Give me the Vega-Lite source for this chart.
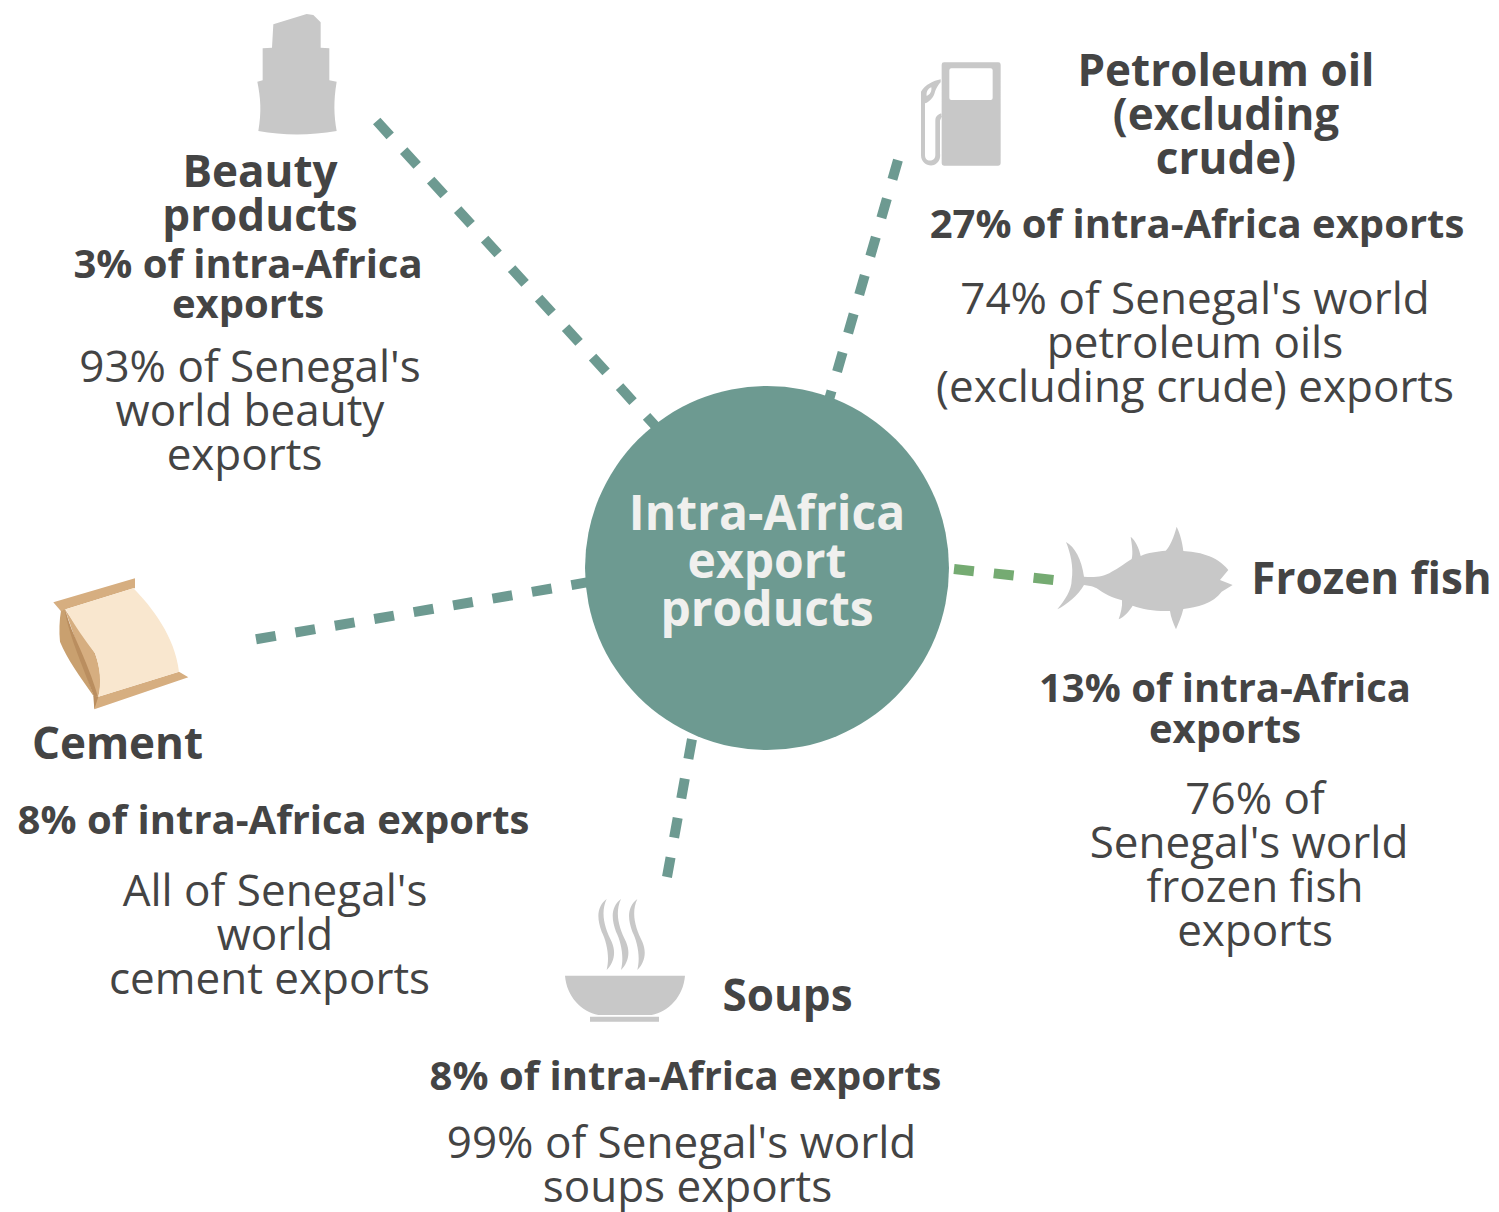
{"$schema":"https://vega.github.io/schema/vega-lite/v6.json","width":1499,"height":1212,"padding":0,"autosize":{"type":"none"},"background":"white","view":{"stroke":null},
"datasets":{
"links":[{"product":"Beauty products","px":376.7,"py":121},{"product":"Beauty products","px":660,"py":431},{"product":"Petroleum oil","px":898.3,"py":159},{"product":"Petroleum oil","px":826,"py":410},{"product":"Frozen fish","px":954,"py":569},{"product":"Frozen fish","px":1054,"py":580},{"product":"Cement","px":256,"py":639.3},{"product":"Cement","px":595,"py":581},{"product":"Soups","px":692,"py":739},{"product":"Soups","px":667,"py":877}],
"hub":[{"name":"Intra-Africa export products","px":767,"py":568}],
"icons":[{"name":"beauty","px":240,"py":5},{"name":"pump","px":910,"py":50},{"name":"fish","px":1050,"py":520},{"name":"cement","px":45,"py":570},{"name":"soup","px":555,"py":890}],
"labels":[
{"kind":"head","t":"Beauty","px":260,"py":186.5},{"kind":"head","t":"products","px":260,"py":230.5},
{"kind":"share","t":"3% of intra-Africa","px":248,"py":278},{"kind":"share","t":"exports","px":248,"py":318},
{"kind":"body","t":"93% of Senegal's","px":250,"py":382},{"kind":"body","t":"world beauty","px":250,"py":426},{"kind":"body","t":"exports","px":244.5,"py":470},
{"kind":"head","t":"Petroleum oil","px":1226,"py":86},{"kind":"head","t":"(excluding","px":1226,"py":130},{"kind":"head","t":"crude)","px":1226,"py":174},
{"kind":"share","t":"27% of intra-Africa exports","px":1197,"py":238},
{"kind":"body","t":"74% of Senegal's world","px":1195,"py":314},{"kind":"body","t":"petroleum oils","px":1195,"py":358},{"kind":"body","t":"(excluding crude) exports","px":1195,"py":402},
{"kind":"hub","t":"Intra-Africa","px":767,"py":530},{"kind":"hub","t":"export","px":767,"py":578},{"kind":"hub","t":"products","px":767,"py":626},
{"kind":"head","t":"Frozen fish","px":1371.5,"py":594},
{"kind":"share","t":"13% of intra-Africa","px":1225,"py":702},{"kind":"share","t":"exports","px":1225,"py":743},
{"kind":"body","t":"76% of","px":1255,"py":814},{"kind":"body","t":"Senegal's world","px":1249,"py":858},{"kind":"body","t":"frozen fish","px":1255,"py":902},{"kind":"body","t":"exports","px":1255,"py":946},
{"kind":"head","t":"Cement","px":117.5,"py":758.5},
{"kind":"share","t":"8% of intra-Africa exports","px":273.5,"py":834},
{"kind":"body","t":"All of Senegal's","px":275,"py":906},{"kind":"body","t":"world","px":275,"py":950},{"kind":"body","t":"cement exports","px":269.5,"py":994},
{"kind":"head","t":"Soups","px":787.5,"py":1010.5},
{"kind":"share","t":"8% of intra-Africa exports","px":685.5,"py":1090},
{"kind":"body","t":"99% of Senegal's world","px":681.5,"py":1158},{"kind":"body","t":"soups exports","px":687.5,"py":1202}
]},
"encoding":{
"x":{"field":"px","type":"quantitative","scale":{"domain":[0,1499],"nice":false,"zero":false},"axis":null},
"y":{"field":"py","type":"quantitative","scale":{"domain":[0,1212],"nice":false,"zero":false,"reverse":true},"axis":null}},
"layer":[
{"data":{"name":"links"},"mark":{"type":"line","strokeWidth":10,"strokeDash":[20,20]},"encoding":{"detail":{"field":"product"},"color":{"field":"product","type":"nominal","legend":null,"scale":{"domain":["Beauty products","Petroleum oil","Frozen fish","Cement","Soups"],"range":["#6d9a91","#6d9a91","#75ab72","#6d9a91","#6d9a91"]}}}},
{"data":{"name":"hub"},"mark":{"type":"point","shape":"circle","filled":true,"size":132496,"color":"#6d9a91","opacity":1}},
{"data":{"name":"icons"},"transform":[{"filter":"datum.name=='beauty'"}],"mark":{"type":"point","filled":true,"opacity":1,"color":"#c8c8c8","size":0.4444,"shape":"M100,58L200,27L220,30L242,52L242,128L268,130L268,226L290,230C280,290 282,330 290,378C210,392 130,392 55,378C65,320 62,280 52,230L68,226L68,130L96,128Z"}},
{"data":{"name":"icons"},"transform":[{"filter":"datum.name=='pump'"}],"mark":{"type":"point","filled":true,"opacity":1,"color":"#c8c8c8","size":0.4444,"shape":"M102,37L265,37Q272,37 272,44L272,340Q272,347 265,347L102,347Q95,347 95,340L95,44Q95,37 102,37ZM92,88C70,92 45,105 33,125L33,315C33,340 55,350 72,345C88,338 92,325 90,310L90,212C92,205 95,200 96,197L96,190C85,192 76,198 76,212L76,315C76,330 62,335 52,330C46,326 45,320 45,315L45,160C60,155 72,140 75,125C80,112 88,100 92,97Z"}},
{"data":{"name":"icons"},"transform":[{"filter":"datum.name=='pump'"}],"mark":{"type":"point","filled":true,"opacity":1,"color":"#ffffff","size":0.4444,"shape":"M124,55L242,55Q248,55 248,61L248,144Q248,150 242,150L124,150Q118,150 118,144L118,61Q118,55 124,55ZM64,112C54,116 48,126 50,138C60,134 66,124 64,112Z"}},
{"data":{"name":"icons"},"transform":[{"filter":"datum.name=='fish'"}],"mark":{"type":"point","filled":true,"opacity":1,"color":"#c8c8c8","size":0.4444,"shape":"M48,66C75,80 95,120 102,170C130,172 160,172 185,155C205,145 225,130 245,117C250,100 245,70 242,50C255,60 268,85 272,108C295,97 320,95 347,92C360,80 372,50 380,20C390,40 398,70 400,93C440,95 500,105 535,150L510,180L548,195L515,215C490,250 440,262 400,267C395,290 385,310 378,328C370,310 362,290 360,273C320,275 280,268 248,257C240,270 225,290 206,298C212,280 218,260 216,241C190,235 160,220 140,205C125,197 115,197 102,195C85,225 50,255 22,268C45,240 65,210 65,180C72,140 60,95 48,66Z"}},
{"data":{"name":"icons"},"transform":[{"filter":"datum.name=='cement'"}],"mark":{"type":"point","filled":true,"opacity":1,"color":"#d6ae80","size":0.4444,"shape":"M25,97L270,25L270,55L265,55L62,118L48,124ZM160,380L402,305L430,322L148,418L148,380ZM60,118C95,170 125,210 150,250C165,290 172,340 160,380L150,380Z"}},
{"data":{"name":"icons"},"transform":[{"filter":"datum.name=='cement'"}],"mark":{"type":"point","filled":true,"opacity":1,"color":"#c9a06f","size":0.4444,"shape":"M48,122L60,118C70,160 100,240 147,380C105,320 65,265 45,215C42,185 43,150 48,122Z"}},
{"data":{"name":"icons"},"transform":[{"filter":"datum.name=='cement'"}],"mark":{"type":"point","filled":true,"opacity":1,"color":"#ba8e5f","size":0.4444,"shape":"M60,118C75,170 85,190 100,225C120,270 145,330 158,378L147,380C125,320 85,225 72,175C65,150 60,130 60,118ZM145,378L160,380L148,418Z"}},
{"data":{"name":"icons"},"transform":[{"filter":"datum.name=='cement'"}],"mark":{"type":"point","filled":true,"opacity":1,"color":"#f9e7cf","size":0.4444,"shape":"M62,118L265,55C320,110 390,200 402,305L160,380C170,340 165,290 150,250C120,210 90,170 62,118Z"}},
{"data":{"name":"icons"},"transform":[{"filter":"datum.name=='soup'"}],"mark":{"type":"point","filled":true,"opacity":1,"color":"#c8c8c8","size":0.4444,"shape":"M30,257L390,257C385,320 340,365 290,375L130,375C80,365 35,320 30,257ZM105,380L312,380L312,395L105,395ZM155,27C125,50 125,85 140,125C155,155 165,200 155,240C175,220 185,190 170,155C150,115 135,70 155,27ZM198,27C168,50 168,85 183,125C198,155 208,200 198,240C218,220 228,190 213,155C193,115 178,70 198,27ZM247,27C217,50 217,85 232,125C247,155 257,200 247,240C267,220 277,190 262,155C242,115 227,70 247,27Z"}},
{"data":{"name":"labels"},"transform":[{"filter":"datum.kind=='head'"}],"mark":{"type":"text","font":"Open Sans","fontWeight":"bold","fontSize":44,"color":"#444444","align":"center","baseline":"alphabetic"},"encoding":{"text":{"field":"t"}}},
{"data":{"name":"labels"},"transform":[{"filter":"datum.kind=='share'"}],"mark":{"type":"text","font":"Open Sans","fontWeight":"bold","fontSize":40,"color":"#444444","align":"center","baseline":"alphabetic"},"encoding":{"text":{"field":"t"}}},
{"data":{"name":"labels"},"transform":[{"filter":"datum.kind=='body'"}],"mark":{"type":"text","font":"Open Sans","fontSize":44,"color":"#444444","align":"center","baseline":"alphabetic"},"encoding":{"text":{"field":"t"}}},
{"data":{"name":"labels"},"transform":[{"filter":"datum.kind=='hub'"}],"mark":{"type":"text","font":"Open Sans","fontWeight":"bold","fontSize":48,"color":"#f0f0ee","align":"center","baseline":"alphabetic"},"encoding":{"text":{"field":"t"}}}
]}
